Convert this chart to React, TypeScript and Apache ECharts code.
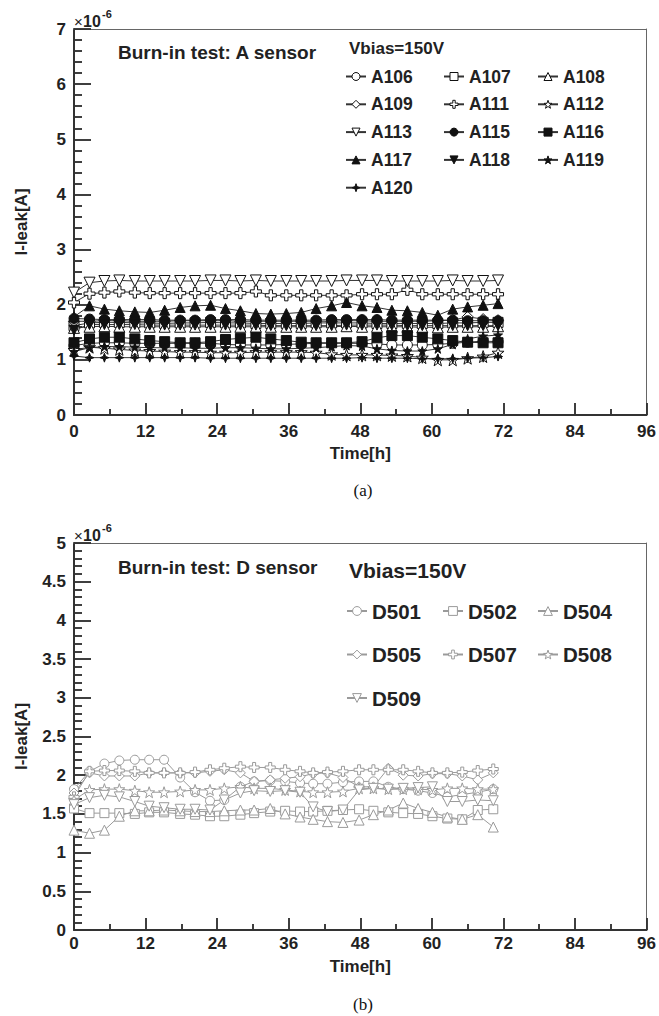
import React, { useEffect, useRef } from "react";
import * as echarts from "echarts";

// ---------- data ----------
const timeA = [0, 2.6, 5.1, 7.6, 10.2, 12.7, 15.2, 17.8, 20.3, 22.9, 25.4, 27.9, 30.5, 33.0, 35.6, 38.1, 40.6, 43.2, 45.7, 48.3, 50.8, 53.3, 55.9, 58.4, 61.0, 63.5, 66.0, 68.6, 71.1];
const timeD = [0, 2.6, 5.1, 7.6, 10.2, 12.6, 15.1, 17.8, 20.3, 22.8, 25.2, 27.9, 30.2, 32.9, 35.4, 37.9, 40.1, 42.5, 45.1, 47.8, 50.2, 52.7, 55.2, 57.7, 60.1, 62.6, 65.1, 67.7, 70.3];

// values in units of 1e-6 A
const A106 = [1.26, 1.30, 1.31, 1.31, 1.30, 1.30, 1.30, 1.30, 1.30, 1.30, 1.28, 1.27, 1.27, 1.27, 1.28, 1.29, 1.30, 1.30, 1.30, 1.30, 1.29, 1.27, 1.27, 1.27, 1.28, 1.30, 1.32, 1.34, 1.33];
const A107 = [1.62, 1.67, 1.68, 1.68, 1.67, 1.67, 1.66, 1.67, 1.67, 1.68, 1.67, 1.67, 1.66, 1.66, 1.66, 1.66, 1.67, 1.67, 1.67, 1.67, 1.66, 1.66, 1.66, 1.66, 1.66, 1.67, 1.67, 1.68, 1.68];
const A108 = [1.58, 1.60, 1.61, 1.60, 1.60, 1.60, 1.60, 1.60, 1.60, 1.60, 1.60, 1.60, 1.60, 1.60, 1.60, 1.60, 1.60, 1.60, 1.61, 1.60, 1.60, 1.60, 1.60, 1.59, 1.59, 1.60, 1.60, 1.60, 1.61];
const A109 = [1.70, 1.70, 1.71, 1.71, 1.70, 1.70, 1.70, 1.71, 1.71, 1.71, 1.71, 1.70, 1.70, 1.70, 1.70, 1.70, 1.70, 1.70, 1.71, 1.71, 1.70, 1.70, 1.70, 1.70, 1.71, 1.72, 1.78, 1.74, 1.72];
const A111 = [2.04, 2.20, 2.22, 2.24, 2.22, 2.21, 2.21, 2.21, 2.21, 2.21, 2.21, 2.21, 2.24, 2.17, 2.17, 2.17, 2.17, 2.17, 2.17, 2.19, 2.19, 2.19, 2.27, 2.19, 2.19, 2.19, 2.19, 2.19, 2.19];
const A112 = [1.18, 1.23, 1.21, 1.19, 1.17, 1.16, 1.15, 1.14, 1.14, 1.13, 1.13, 1.13, 1.14, 1.14, 1.14, 1.14, 1.13, 1.10, 1.09, 1.09, 1.09, 1.08, 1.07, 1.04, 1.00, 1.00, 1.03, 1.06, 1.13];
const A113 = [2.22, 2.40, 2.43, 2.44, 2.43, 2.43, 2.43, 2.43, 2.43, 2.44, 2.44, 2.43, 2.44, 2.43, 2.43, 2.43, 2.43, 2.43, 2.44, 2.44, 2.44, 2.43, 2.43, 2.43, 2.43, 2.44, 2.43, 2.43, 2.44];
const A115 = [1.75, 1.74, 1.73, 1.73, 1.73, 1.73, 1.72, 1.72, 1.72, 1.73, 1.73, 1.73, 1.72, 1.72, 1.72, 1.72, 1.72, 1.73, 1.73, 1.73, 1.73, 1.72, 1.72, 1.72, 1.72, 1.72, 1.71, 1.71, 1.71];
const A116 = [1.31, 1.38, 1.41, 1.41, 1.38, 1.35, 1.33, 1.31, 1.31, 1.33, 1.37, 1.39, 1.41, 1.38, 1.35, 1.32, 1.31, 1.31, 1.31, 1.33, 1.40, 1.44, 1.44, 1.41, 1.38, 1.35, 1.32, 1.31, 1.31];
const A117 = [1.78, 1.98, 1.92, 1.89, 1.87, 1.86, 1.90, 1.95, 1.98, 1.99, 1.93, 1.89, 1.84, 1.83, 1.84, 1.86, 1.93, 1.98, 2.04, 1.98, 1.95, 1.90, 1.89, 1.86, 1.81, 1.92, 1.96, 1.99, 2.02];
const A118 = [1.54, 1.64, 1.64, 1.64, 1.64, 1.63, 1.63, 1.63, 1.63, 1.63, 1.63, 1.63, 1.63, 1.62, 1.62, 1.62, 1.62, 1.62, 1.63, 1.63, 1.63, 1.63, 1.62, 1.62, 1.62, 1.62, 1.62, 1.62, 1.62];
const A119 = [1.15, 1.22, 1.24, 1.24, 1.23, 1.22, 1.22, 1.22, 1.21, 1.21, 1.22, 1.22, 1.21, 1.20, 1.20, 1.21, 1.22, 1.24, 1.26, 1.25, 1.20, 1.17, 1.16, 1.16, 1.20, 1.28, 1.38, 1.43, 1.45];
const A120 = [1.07, 1.04, 1.04, 1.04, 1.04, 1.04, 1.04, 1.04, 1.04, 1.03, 1.03, 1.03, 1.03, 1.03, 1.03, 1.03, 1.03, 1.03, 1.03, 1.04, 1.03, 1.03, 1.03, 1.02, 1.02, 1.02, 1.03, 1.04, 1.06];

const D501 = [1.82, 2.05, 2.15, 2.19, 2.20, 2.20, 2.20, 1.97, 1.78, 1.67, 1.68, 1.85, 1.92, 1.93, 1.92, 1.90, 1.89, 1.89, 1.91, 1.92, 1.92, 1.85, 1.82, 1.80, 1.77, 1.72, 1.75, 1.78, 1.82];
const D502 = [1.57, 1.51, 1.51, 1.51, 1.50, 1.52, 1.52, 1.50, 1.49, 1.47, 1.47, 1.49, 1.51, 1.53, 1.54, 1.53, 1.53, 1.54, 1.55, 1.56, 1.54, 1.52, 1.51, 1.50, 1.47, 1.44, 1.43, 1.55, 1.56];
const D504 = [1.29, 1.25, 1.29, 1.47, 1.54, 1.54, 1.55, 1.54, 1.53, 1.53, 1.54, 1.55, 1.55, 1.57, 1.50, 1.46, 1.43, 1.40, 1.39, 1.42, 1.49, 1.55, 1.64, 1.57, 1.52, 1.46, 1.43, 1.49, 1.33];
const D505 = [1.77, 2.03, 1.99, 1.99, 1.99, 2.03, 2.03, 2.03, 2.03, 2.05, 2.07, 2.03, 1.92, 1.94, 1.96, 1.98, 2.02, 2.03, 1.97, 1.85, 1.85, 2.09, 2.00, 1.99, 2.02, 2.02, 1.99, 1.94, 2.03];
const D507 = [1.72, 2.05, 2.06, 2.06, 2.05, 2.03, 2.03, 2.03, 2.04, 2.07, 2.09, 2.11, 2.10, 2.10, 2.07, 2.05, 2.03, 2.04, 2.05, 2.07, 2.07, 2.07, 2.07, 2.05, 2.03, 2.03, 2.04, 2.06, 2.08];
const D508 = [1.68, 1.81, 1.82, 1.82, 1.80, 1.78, 1.78, 1.79, 1.81, 1.81, 1.83, 1.85, 1.83, 1.83, 1.81, 1.79, 1.78, 1.78, 1.79, 1.83, 1.83, 1.82, 1.82, 1.82, 1.81, 1.83, 1.83, 1.82, 1.82];
const D509 = [1.62, 1.71, 1.74, 1.72, 1.66, 1.60, 1.58, 1.56, 1.56, 1.55, 1.68, 1.77, 1.80, 1.79, 1.80, 1.78, 1.59, 1.53, 1.55, 1.81, 1.83, 1.82, 1.83, 1.84, 1.85, 1.66, 1.66, 1.68, 1.67];

const legendA = [["A106", "A109", "A113", "A117", "A120"], ["A107", "A111", "A115", "A118"], ["A108", "A112", "A116", "A119"]];
const legendD = [["D501", "D505", "D509"], ["D502", "D507"], ["D504", "D508"]];

// ---------- styling ----------
const FONT = "'Liberation Sans', Arial, Helvetica, sans-serif";
const SERIF = "'Liberation Serif', 'Times New Roman', serif";
const SYM = {
  star: "path://M5,0L6.18,3.38L9.76,3.45L6.9,5.62L7.94,9.05L5,7L2.06,9.05L3.1,5.62L0.24,3.45L3.82,3.38Z",
  cross: "path://M3.5,0L6.5,0L6.5,3.5L10,3.5L10,6.5L6.5,6.5L6.5,10L3.5,10L3.5,6.5L0,6.5L0,3.5L3.5,3.5Z",
  down: "path://M0,0L10,0L5,9Z",
  spark: "path://M5,0L6.3,3.7L10,5L6.3,6.3L5,10L3.7,6.3L0,5L3.7,3.7Z",
};
const BLACK = "#111";
const GRAY = "#9a9a9a";
const AXIS = "#333";

type Spec = { name: string; ys: number[]; symbol: string; size: number; filled: boolean };

const specsA: Spec[] = [
  { name: "A106", ys: A106, symbol: "circle", size: 10, filled: false },
  { name: "A107", ys: A107, symbol: "rect", size: 10, filled: false },
  { name: "A108", ys: A108, symbol: "triangle", size: 11, filled: false },
  { name: "A109", ys: A109, symbol: "diamond", size: 11, filled: false },
  { name: "A111", ys: A111, symbol: SYM.cross, size: 11, filled: false },
  { name: "A112", ys: A112, symbol: SYM.star, size: 12, filled: false },
  { name: "A113", ys: A113, symbol: SYM.down, size: 11, filled: false },
  { name: "A115", ys: A115, symbol: "circle", size: 10, filled: true },
  { name: "A116", ys: A116, symbol: "rect", size: 10, filled: true },
  { name: "A117", ys: A117, symbol: "triangle", size: 10, filled: true },
  { name: "A118", ys: A118, symbol: SYM.down, size: 10, filled: true },
  { name: "A119", ys: A119, symbol: SYM.star, size: 9, filled: true },
  { name: "A120", ys: A120, symbol: SYM.spark, size: 9, filled: true },
];
const specsD: Spec[] = [
  { name: "D501", ys: D501, symbol: "circle", size: 9, filled: false },
  { name: "D502", ys: D502, symbol: "rect", size: 9, filled: false },
  { name: "D504", ys: D504, symbol: "triangle", size: 10, filled: false },
  { name: "D505", ys: D505, symbol: "diamond", size: 10, filled: false },
  { name: "D507", ys: D507, symbol: SYM.cross, size: 10, filled: false },
  { name: "D508", ys: D508, symbol: SYM.star, size: 11, filled: false },
  { name: "D509", ys: D509, symbol: SYM.down, size: 10, filled: false },
];

const itemStyleOf = (s: Spec, col: string) => ({ color: s.filled ? col : "#fff", borderColor: col, borderWidth: 1 });

type PanelCfg = {
  xs: number[];
  specs: Spec[];
  col: string;
  lineCol: string;
  ymax: number;
  yint: number;
  gridTop: number;
  gridH: number;
  xLabelMargin: number;
  xNameGap: number;
  legendCols: string[][];
  legendLefts: number[];
  legendTop: number;
  legendFont: number;
  legendLineH: number;
  legendGap: number;
  legendIconH: number;
  title: string;
  titleY: number;
  vbiasY: number;
  vbiasFont: number;
  expY: number;
  caption: string;
  captionY: number;
};

function buildOption(c: PanelCfg): any {
  const specByName: Record<string, Spec> = {};
  c.specs.forEach((s) => (specByName[s.name] = s));
  const txt = (text: string, x: number, y: number, font: string, align = "left", color = "#222") => ({
    type: "text",
    x,
    y,
    silent: true,
    style: { text, font, fill: color, textAlign: align, textVerticalAlign: "middle" },
  });
  // ticks-only axes (drawn over the plot, inside the frame)
  const tickX = {
    type: "value",
    position: "bottom",
    min: 0,
    max: 96,
    interval: 12,
    axisLine: { show: false, onZero: false },
    axisTick: { show: true, inside: true, length: 12, lineStyle: { color: AXIS, width: 1.5 } },
    minorTick: { show: true, splitNumber: 2, length: 6, lineStyle: { color: AXIS, width: 1.5 } },
    axisLabel: { show: false },
    splitLine: { show: false },
  };
  const tickY = {
    type: "value",
    position: "left",
    min: 0,
    max: c.ymax,
    interval: c.yint,
    axisLine: { show: false, onZero: false },
    axisTick: { show: true, inside: true, length: 17, lineStyle: { color: AXIS, width: 1.5 } },
    minorTick: { show: true, splitNumber: 5, length: 8, lineStyle: { color: AXIS, width: 1.5 } },
    axisLabel: { show: false },
    splitLine: { show: false },
  };
  return {
    animation: false,
    backgroundColor: "#fff",
    grid: { left: 74, top: c.gridTop, width: 574, height: c.gridH },
    xAxis: [
      {
        type: "value",
        position: "bottom",
        min: 0,
        max: 96,
        interval: 12,
        name: "Time[h]",
        nameLocation: "middle",
        nameGap: c.xNameGap,
        nameTextStyle: { fontFamily: FONT, fontWeight: "bold", fontSize: 17, color: "#222" },
        axisLine: { show: true, onZero: false, lineStyle: { color: AXIS, width: 2 } },
        axisTick: { show: true, inside: true, length: 12, lineStyle: { color: AXIS, width: 1.5 } },
        minorTick: { show: true, splitNumber: 2, length: 6, lineStyle: { color: AXIS, width: 1.5 } },
        splitLine: { show: false },
        axisLabel: { show: true, margin: c.xLabelMargin, fontFamily: FONT, fontWeight: "bold", fontSize: 17, color: "#222" },
      },
      {
        type: "value",
        position: "top",
        min: 0,
        max: 96,
        axisLine: { show: true, onZero: false, lineStyle: { color: "#666", width: 1 } },
        axisTick: { show: false },
        axisLabel: { show: false },
        splitLine: { show: false },
      },
      tickX,
    ],
    yAxis: [
      {
        type: "value",
        position: "left",
        min: 0,
        max: c.ymax,
        interval: c.yint,
        name: "I-leak[A]",
        nameLocation: "middle",
        nameGap: 44,
        nameTextStyle: { fontFamily: FONT, fontWeight: "bold", fontSize: 17, color: "#222" },
        axisLine: { show: true, onZero: false, lineStyle: { color: AXIS, width: 2 } },
        axisTick: { show: true, inside: true, length: 17, lineStyle: { color: AXIS, width: 1.5 } },
        minorTick: { show: true, splitNumber: 5, length: 8, lineStyle: { color: AXIS, width: 1.5 } },
        splitLine: { show: false },
        axisLabel: { show: true, margin: 8, fontFamily: FONT, fontWeight: "bold", fontSize: 17, color: "#222" },
      },
      {
        type: "value",
        position: "right",
        min: 0,
        max: c.ymax,
        axisLine: { show: true, onZero: false, lineStyle: { color: "#666", width: 1 } },
        axisTick: { show: false },
        axisLabel: { show: false },
        splitLine: { show: false },
      },
      tickY,
    ],
    legend: c.legendCols.map((names, i) => ({
      orient: "vertical",
      left: c.legendLefts[i],
      top: c.legendTop,
      padding: 0,
      itemWidth: 20,
      itemHeight: c.legendIconH,
      itemGap: c.legendGap,
      selectedMode: false,
      data: names.map((n) => ({ name: n, itemStyle: itemStyleOf(specByName[n], c.col) })),
      textStyle: { fontFamily: FONT, fontWeight: "bold", fontSize: c.legendFont, lineHeight: c.legendLineH, color: "#222" },
    })),
    graphic: [
      txt(c.title, 118, c.titleY, `bold 19px ${FONT}`),
      txt("Vbias=150V", 349, c.vbiasY, `bold ${c.vbiasFont}px ${FONT}`),
      txt("×", 74, c.expY, `15px ${FONT}`),
      txt("10", 83, c.expY, `bold 16px ${FONT}`),
      txt("-6", 102, c.expY - 7, `bold 11px ${FONT}`),
      txt(c.caption, 363, c.captionY, `17px ${SERIF}`, "center", "#111"),
    ],
    series: c.specs.map((s) => ({
      type: "line",
      name: s.name,
      xAxisIndex: 0,
      yAxisIndex: 0,
      data: c.xs.map((t, i) => [t, s.ys[i]]),
      symbol: s.symbol,
      symbolSize: s.size,
      itemStyle: itemStyleOf(s, c.col),
      lineStyle: { color: c.lineCol, width: 1 },
    })),
  };
}

const cfgA: PanelCfg = {
  xs: timeA, specs: specsA, col: BLACK, lineCol: "#333", ymax: 7, yint: 1,
  gridTop: 29, gridH: 386, xLabelMargin: 8, xNameGap: 23,
  legendCols: legendA, legendLefts: [345, 443, 537], legendTop: 66.5, legendFont: 17.5, legendLineH: 20, legendGap: 7.8, legendIconH: 10,
  title: "Burn-in test: A sensor", titleY: 52, vbiasY: 48, vbiasFont: 17, expY: 21, caption: "(a)", captionY: 490,
};
const cfgD: PanelCfg = {
  xs: timeD, specs: specsD, col: GRAY, lineCol: GRAY, ymax: 5, yint: 0.5,
  gridTop: 35, gridH: 387, xLabelMargin: 5, xNameGap: 28,
  legendCols: legendD, legendLefts: [346, 442, 537], legendTop: 91, legendFont: 20.5, legendLineH: 24, legendGap: 19.5, legendIconH: 11,
  title: "Burn-in test: D sensor", titleY: 59, vbiasY: 62, vbiasFont: 21, expY: 27, caption: "(b)", captionY: 496,
};

function Panel({ cfg }: { cfg: PanelCfg }) {
  const ref = useRef<HTMLDivElement>(null);
  useEffect(() => {
    if (!ref.current) return;
    const chart = echarts.init(ref.current, undefined, { renderer: "svg" });
    chart.setOption(buildOption(cfg));
    return () => chart.dispose();
  }, [cfg]);
  return <div ref={ref} style={{ width: 659, height: 508 }} />;
}

export default function App() {
  return (
    <div style={{ position: "absolute", left: 0, top: 0, width: 659, height: 1016, background: "#fff" }}>
      <Panel cfg={cfgA} />
      <Panel cfg={cfgD} />
    </div>
  );
}
